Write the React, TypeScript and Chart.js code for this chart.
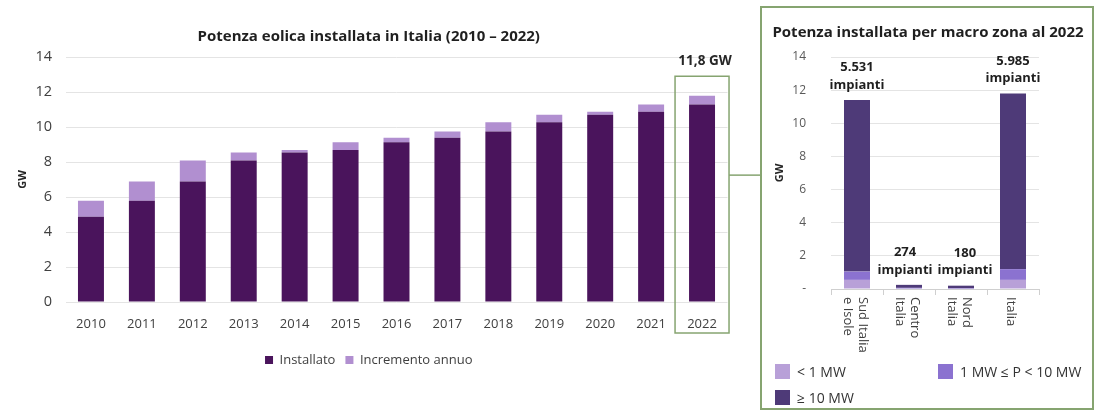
import React, { useEffect, useRef } from 'react';
import { Chart, registerables } from 'chart.js';

Chart.register(...registerables);

// ---------- data ----------
const YEARS = ['2010', '2011', '2012', '2013', '2014', '2015', '2016', '2017', '2018', '2019', '2020', '2021', '2022'];
const INSTALLATO = [4.87, 5.78, 6.88, 8.08, 8.54, 8.68, 9.13, 9.39, 9.74, 10.27, 10.7, 10.87, 11.29];
const INCREMENTO = [0.91, 1.1, 1.2, 0.46, 0.14, 0.45, 0.26, 0.35, 0.53, 0.43, 0.17, 0.42, 0.5];

const ZONES = [['Sud Italia', 'e Isole'], ['Centro', 'Italia'], ['Nord', 'Italia'], ['Italia']];
const LT1 = [0.55, 0.03, 0.02, 0.55];
const MID = [0.5, 0.04, 0.03, 0.65];
const GE10 = [10.35, 0.18, 0.15, 10.6];
const IMPIANTI = ['5.531', '274', '180', '5.985'];
const ZONE_SERIES = ['< 1 MW', '1 MW \u2264 P < 10 MW', '\u2265 10 MW'];

const Y_MAX = 14;
const Y_STEP = 2;

// ---------- style ----------
const FONT = "'Open Sans', sans-serif";
const C_INST = '#4a145c';
const C_INC = '#b18fd0';
const C_LT1 = '#b8a0d8';
const C_MID = '#8b72d0';
const C_GE10 = '#4e3a78';
const C_GREEN = '#86a470';
const C_TEXT = '#404040';
const C_GRID = '#e4e4e4';

const leftPlugin = {
  id: 'highlight2022',
  afterDraw(chart: any) {
    const { ctx, chartArea } = chart;
    const x = chart.scales.x;
    const y = chart.scales.y;
    const i = YEARS.length - 1;
    const cx = x.getPixelForValue(i);
    const half = (x.getPixelForValue(1) - x.getPixelForValue(0)) * 0.53;
    const top = y.getPixelForValue(12.9);
    const bottom = chartArea.bottom + 31;
    ctx.save();
    ctx.strokeStyle = C_GREEN;
    ctx.lineWidth = 1.5;
    ctx.strokeRect(cx - half, top, 2 * half, bottom - top);
    const ly = y.getPixelForValue(7.25);
    ctx.beginPath();
    ctx.moveTo(cx + half, ly);
    ctx.lineTo(chart.width, ly);
    ctx.stroke();
    const total = INSTALLATO[i] + INCREMENTO[i];
    ctx.font = `bold 13.5px ${FONT}`;
    ctx.fillStyle = '#262626';
    ctx.textAlign = 'center';
    ctx.textBaseline = 'middle';
    ctx.fillText(total.toFixed(1).replace('.', ',') + ' GW', cx + 3, top - 15);
    ctx.restore();
  },
};

const rightPlugin = {
  id: 'zoneLabels',
  afterDraw(chart: any) {
    const { ctx, chartArea } = chart;
    const x = chart.scales.x;
    ctx.save();
    // title
    ctx.font = `bold 15px ${FONT}`;
    ctx.fillStyle = '#1f1f1f';
    ctx.textAlign = 'center';
    ctx.textBaseline = 'middle';
    ctx.fillText('Potenza installata per macro zona al 2022', chart.width / 2 + 1, 25);
    // value labels above bars, nudged apart when they would collide
    ctx.font = `bold 13px ${FONT}`;
    const meta = chart.getDatasetMeta(chart.data.datasets.length - 1);
    const w = ctx.measureText('impianti').width;
    const items = meta.data.map((bar: any) => ({ x: bar.x, y: bar.y }));
    for (let i = 0; i < items.length - 1; i++) {
      const a = items[i];
      const b = items[i + 1];
      if (Math.abs(a.y - b.y) < 30) {
        const gap = (b.x - w / 2) - (a.x + w / 2);
        const need = 5 - gap;
        if (need > 0) {
          a.x -= need / 2;
          b.x += need / 2;
        }
      }
    }
    items.forEach((p: any, i: number) => {
      ctx.fillText(IMPIANTI[i], p.x, p.y - 32.5);
      ctx.fillText('impianti', p.x, p.y - 15);
    });
    // rotated category labels (clockwise)
    ctx.font = `13px ${FONT}`;
    ctx.fillStyle = C_TEXT;
    ctx.textAlign = 'left';
    const lh = 15;
    ZONES.forEach((lines, i) => {
      const cx = x.getPixelForValue(i) - 2;
      ctx.save();
      ctx.translate(cx, chartArea.bottom + 8);
      ctx.rotate(Math.PI / 2);
      lines.forEach((line, k) => {
        ctx.fillText(line, 0, (k - (lines.length - 1) / 2) * lh);
      });
      ctx.restore();
    });
    ctx.restore();
  },
};

export default function App() {
  const leftRef = useRef<HTMLCanvasElement>(null);
  const rightRef = useRef<HTMLCanvasElement>(null);

  useEffect(() => {
    const left = new Chart(leftRef.current as HTMLCanvasElement, {
      type: 'bar',
      data: {
        labels: YEARS,
        datasets: [
          { label: 'Installato', data: INSTALLATO, backgroundColor: C_INST },
          { label: 'Incremento annuo', data: INCREMENTO, backgroundColor: C_INC },
        ],
      },
      options: {
        responsive: false,
        animation: false,
        layout: { padding: { left: 10, right: 33.5, top: 0, bottom: 39.5 } },
        datasets: { bar: { barPercentage: 0.51, categoryPercentage: 1 } },
        plugins: {
          title: {
            display: true,
            text: 'Potenza eolica installata in Italia (2010 \u2013 2022)',
            font: { family: FONT, size: 15, weight: 'bold' },
            color: '#1f1f1f',
            padding: { top: 28, bottom: 11 },
          },
          legend: {
            position: 'bottom',
            labels: {
              font: { family: FONT, size: 13 },
              color: C_TEXT,
              boxWidth: 8,
              boxHeight: 8,
              padding: 10,
            },
          },
          tooltip: { enabled: false },
        },
        scales: {
          x: {
            stacked: true,
            grid: { display: false },
            border: { display: false },
            ticks: { font: { family: FONT, size: 13 }, color: C_TEXT, padding: 6 },
            afterFit: (s: any) => { s.height = 41.5; },
          },
          y: {
            stacked: true,
            min: 0,
            max: Y_MAX,
            ticks: { stepSize: Y_STEP, font: { family: FONT, size: 14.5 }, color: C_TEXT, padding: 13.5 },
            grid: { color: C_GRID, drawTicks: false },
            border: { display: false },
            title: {
              display: true,
              text: 'GW',
              font: { family: FONT, size: 11, weight: 'bold' },
              color: '#262626',
              padding: { top: 6, bottom: 0 },
            },
            afterFit: (s: any) => { s.width = 55.5; },
          },
        },
      } as any,
      plugins: [leftPlugin],
    });

    const right = new Chart(rightRef.current as HTMLCanvasElement, {
      type: 'bar',
      data: {
        labels: ZONES.map((z) => z.join(' ')),
        datasets: [
          { label: ZONE_SERIES[0], data: LT1, backgroundColor: C_LT1 },
          { label: ZONE_SERIES[1], data: MID, backgroundColor: C_MID },
          { label: ZONE_SERIES[2], data: GE10, backgroundColor: C_GE10 },
        ],
      },
      options: {
        responsive: false,
        animation: false,
        layout: { padding: { left: 8, right: 53, top: 49, bottom: 0 } },
        datasets: { bar: { barPercentage: 0.5, categoryPercentage: 1 } },
        plugins: { legend: { display: false }, title: { display: false }, tooltip: { enabled: false } },
        scales: {
          x: {
            stacked: true,
            ticks: { display: false },
            grid: { display: true, drawOnChartArea: false, drawTicks: true, tickLength: 6, color: '#cfcfcf' },
            border: { display: true, color: '#cfcfcf' },
            afterFit: (s: any) => { s.height = 119; },
          },
          y: {
            stacked: true,
            min: 0,
            max: Y_MAX,
            ticks: {
              stepSize: Y_STEP,
              font: { family: FONT, size: 12 },
              color: '#595959',
              padding: 25,
              callback: (v: any) => (v === 0 ? '-' : v),
            },
            grid: { color: C_GRID, drawTicks: false },
            border: { display: false },
            title: {
              display: true,
              text: 'GW',
              font: { family: FONT, size: 11, weight: 'bold' },
              color: '#262626',
              padding: { top: 3.4, bottom: 0 },
            },
            afterFit: (s: any) => { s.width = 61; },
          },
        },
      } as any,
      plugins: [rightPlugin],
    });

    return () => {
      left.destroy();
      right.destroy();
    };
  }, []);

  const legendColors = [C_LT1, C_MID, C_GE10];
  const legendPos = [
    { left: 775, top: 364 },
    { left: 938, top: 364 },
    { left: 775, top: 390 },
  ];

  return (
    <div style={{ position: 'fixed', left: 0, top: 0, width: 1105, height: 416, background: '#fff', fontFamily: FONT, overflow: 'hidden' }}>
      <div style={{ position: 'absolute', left: 0, top: 0 }}>
        <canvas ref={leftRef} width={761} height={416} style={{ display: 'block' }} />
      </div>
      <div style={{ position: 'absolute', left: 760, top: 6, width: 334, height: 404, border: `2px solid ${C_GREEN}`, boxSizing: 'border-box' }} />
      <div style={{ position: 'absolute', left: 762, top: 8 }}>
        <canvas ref={rightRef} width={330} height={400} style={{ display: 'block' }} />
      </div>
      {ZONE_SERIES.map((name, i) => (
        <div key={name} style={{ position: 'absolute', left: legendPos[i].left, top: legendPos[i].top, height: 15, display: 'flex', alignItems: 'center', whiteSpace: 'nowrap' }}>
          <span style={{ display: 'inline-block', width: 15, height: 15, background: legendColors[i], marginRight: 7 }} />
          <span style={{ fontSize: 14, color: '#333', lineHeight: '15px' }}>{name}</span>
        </div>
      ))}
    </div>
  );
}
